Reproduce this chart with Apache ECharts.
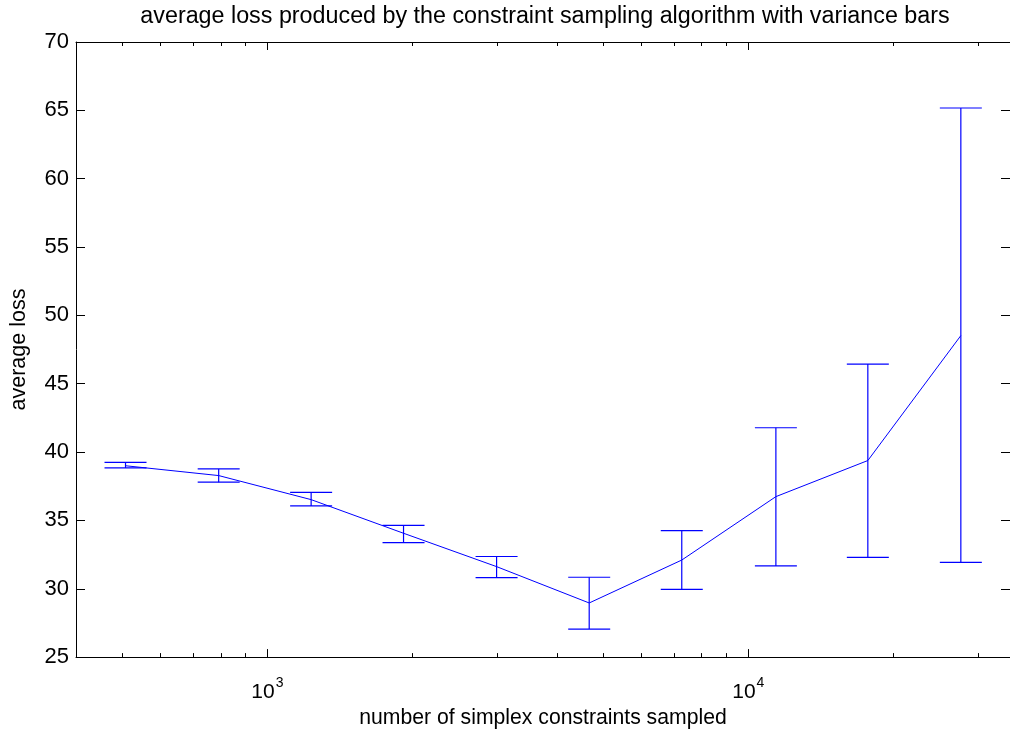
<!DOCTYPE html>
<html>
<head>
<meta charset="utf-8">
<style>
  html, body { margin: 0; padding: 0; background: #fff; }
  #chart { width: 1010px; height: 734px; }
</style>
<script src="https://cdn.jsdelivr.net/npm/echarts@6/dist/echarts.min.js"></script>
</head>
<body>
<div id="chart"></div>
<script>
// ---- data ----
const samplesTaken = [507, 792, 1233, 1919, 2996, 4668, 7271, 11410, 17720, 27660];
const meanLoss     = [39.00, 38.28, 36.52, 34.06, 31.62, 28.96, 32.10, 36.74, 39.38, 48.52];
const upperLoss    = [39.25, 38.77, 37.05, 34.64, 32.36, 30.84, 34.25, 41.78, 46.44, 65.17];
const lowerLoss    = [38.84, 37.80, 36.06, 33.38, 30.82, 27.05, 29.95, 31.67, 32.30, 31.93];

const xMajorTicks = [1000, 10000];
const xMinorTicks = [500, 600, 700, 800, 900, 2000, 3000, 4000, 5000, 6000, 7000, 8000, 9000, 20000, 30000];
const xMin = 400, xMax = 35000;
const yMin = 25, yMax = 70, yStep = 5;

const titleText = 'average loss produced by the constraint sampling algorithm with variance bars';
const xLabelText = 'number of simplex constraints sampled';
const yLabelText = 'average loss';

// ---- build ----
const FONT = 'Liberation Sans, Arial, Helvetica, sans-serif';
const BLUE = '#0000ff';

const lineData = samplesTaken.map((x, i) => [x, meanLoss[i]]);
const barData = samplesTaken.map((x, i) => [x, lowerLoss[i], upperLoss[i]]);

function xAxisDef(pos, ticks, len, showLine, showLabel) {
  return {
    type: 'log', logBase: 10, min: xMin, max: xMax, position: pos,
    axisLine: { show: showLine, onZero: false, lineStyle: { color: '#000', width: 1 } },
    axisTick: { show: true, inside: true, length: len, customValues: ticks, lineStyle: { color: '#000', width: 1 } },
    axisLabel: showLabel ? {
      show: true, customValues: xMajorTicks, margin: 8,
      formatter: v => '{b|10}{s|' + Math.round(Math.log10(v)) + '}',
      rich: {
        b: { fontSize: 21, fontFamily: FONT, color: '#000', lineHeight: 38, verticalAlign: 'bottom' },
        s: { fontSize: 14, fontFamily: FONT, color: '#000', lineHeight: 14, verticalAlign: 'top', padding: [11, 0, 0, 1] }
      }
    } : { show: false },
    splitLine: { show: false },
    minorTick: { show: false }
  };
}

const chart = echarts.init(document.getElementById('chart'), null, { renderer: 'canvas' });
chart.setOption({
  animation: false,
  backgroundColor: '#fff',
  title: {
    text: titleText, left: 540, textAlign: 'center', top: 0,
    textStyle: { fontSize: 23.3, fontWeight: 'normal', fontFamily: FONT, color: '#000' }
  },
  grid: { left: 74, right: -1, top: 42, bottom: 71, containLabel: false },
  xAxis: [
    Object.assign(xAxisDef('bottom', xMajorTicks, 8, true, true), {
      name: xLabelText, nameLocation: 'middle', nameGap: 42,
      nameTextStyle: { fontSize: 21.2, fontFamily: FONT, color: '#000' }
    }),
    xAxisDef('bottom', xMinorTicks, 4, false, false),
    xAxisDef('top', xMajorTicks, 8, true, false),
    xAxisDef('top', xMinorTicks, 4, false, false)
  ],
  yAxis: [
    {
      type: 'value', min: yMin, max: yMax, interval: yStep, position: 'left',
      name: yLabelText, nameLocation: 'middle', nameGap: 46, nameRotate: 90,
      nameTextStyle: { fontSize: 21.5, fontFamily: FONT, color: '#000' },
      axisLine: { show: true, lineStyle: { color: '#000', width: 1 } },
      axisTick: { show: true, inside: true, length: 9, lineStyle: { color: '#000' } },
      axisLabel: { show: true, margin: 7, fontSize: 22, fontFamily: FONT, color: '#000' },
      splitLine: { show: false }
    },
    {
      type: 'value', min: yMin, max: yMax, interval: yStep, position: 'right',
      axisLine: { show: true, lineStyle: { color: '#000', width: 1 } },
      axisTick: { show: true, inside: true, length: 9, lineStyle: { color: '#000' } },
      axisLabel: { show: false },
      splitLine: { show: false }
    }
  ],
  series: [
    {
      type: 'line', xAxisIndex: 0, yAxisIndex: 0, data: lineData,
      symbol: 'none', lineStyle: { color: BLUE, width: 1 }, z: 3
    },
    {
      type: 'custom', xAxisIndex: 0, yAxisIndex: 0, data: barData,
      encode: { x: 0, y: [1, 2] }, z: 4,
      renderItem: function (params, api) {
        const x = api.value(0);
        const lo = api.coord([x, api.value(1)]);
        const hi = api.coord([x, api.value(2)]);
        const hw = 21;
        const st = { stroke: BLUE, lineWidth: 1.2 };
        return {
          type: 'group',
          children: [
            { type: 'line', shape: { x1: lo[0], y1: lo[1], x2: hi[0], y2: hi[1] }, style: st },
            { type: 'line', shape: { x1: lo[0] - hw, y1: lo[1], x2: lo[0] + hw, y2: lo[1] }, style: st },
            { type: 'line', shape: { x1: hi[0] - hw, y1: hi[1], x2: hi[0] + hw, y2: hi[1] }, style: st }
          ]
        };
      }
    }
  ]
});
</script>
</body>
</html>
